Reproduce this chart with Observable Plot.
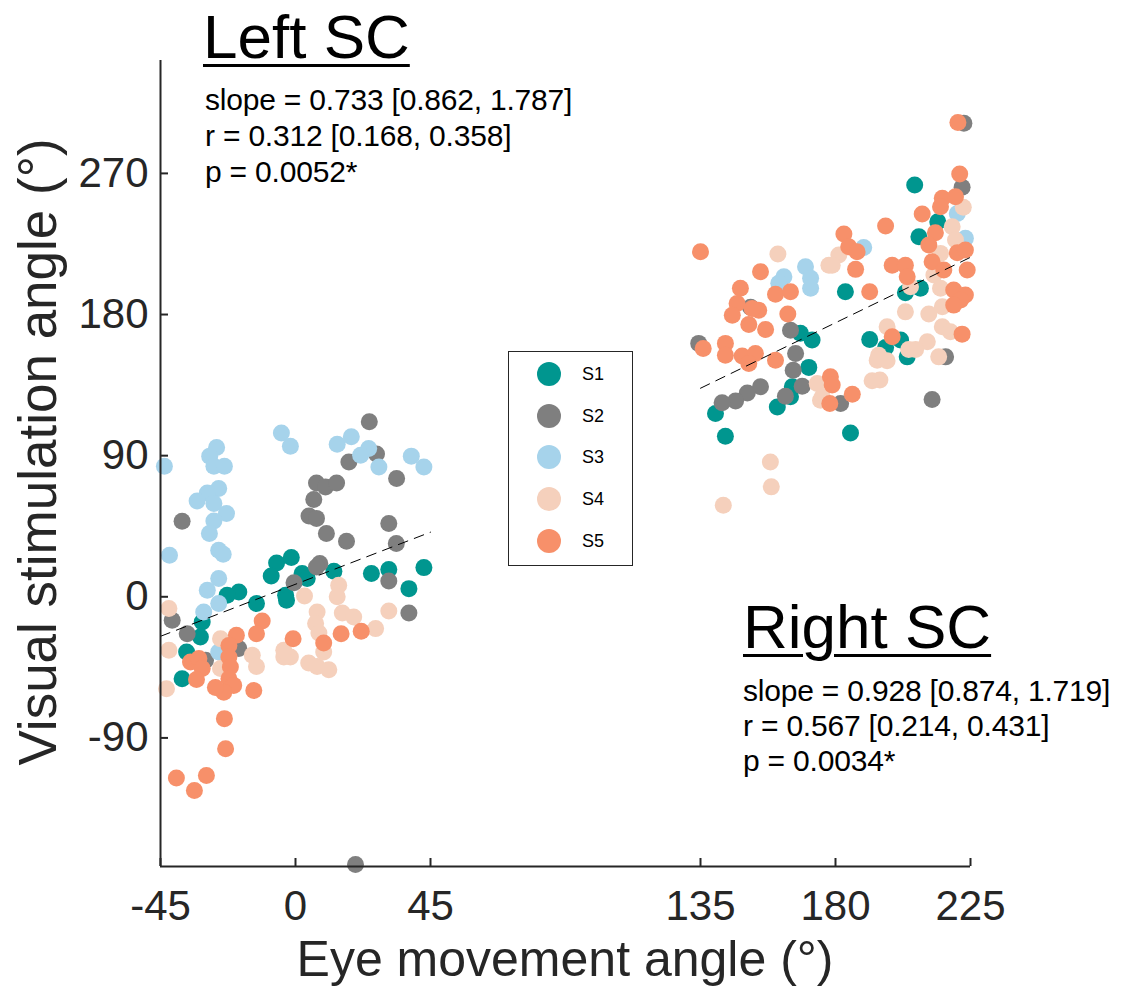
<!DOCTYPE html>
<html><head><meta charset="utf-8">
<script src="https://cdn.jsdelivr.net/npm/d3@7"></script>
<script src="https://cdn.jsdelivr.net/npm/@observablehq/plot@0.6"></script>
<style>
body{margin:0;background:#fff;}
#wrap{position:relative;width:1125px;height:986px;font-family:"Liberation Sans",Arial,sans-serif;color:#000;overflow:hidden;}
#wrap svg{position:absolute;left:0;top:0;}
.ann{position:absolute;white-space:nowrap;line-height:1;}
.title{font-size:62px;text-decoration:underline;text-decoration-thickness:3px;text-underline-offset:6px;}
.stat{font-size:30px;letter-spacing:-0.2px;}
.axlab{color:#262626;}
#legend{position:absolute;left:508px;top:351px;width:123px;height:213px;border:1.5px solid #262626;background:#fff;}
.lrow{position:absolute;left:0;height:30px;}
.lrow span.c{position:absolute;left:28px;top:3px;width:24px;height:24px;border-radius:50%;}
.lrow span.t{position:absolute;left:73px;top:6px;font-size:18px;line-height:1;}
</style></head><body><div id="wrap"></div>
<script>
// ---- data ----
const subjects = ["S1", "S2", "S3", "S4", "S5"];
const subjectColors = ["#00968F", "#7F7F7F", "#A6D3EB", "#F5D0BC", "#F7906A"];
const xTicks = [-45, 0, 45, 135, 180, 225];
const yTicks = [-90, 0, 90, 180, 270];

const s1x = [-6.3, -1.4, -8.1, -3.3, -18.9, -22.8, 2.2, 12.8, 25.3, 31.1, 42.8, 37.8, 3.9, -31.1, -31.7, -36.3, -37.8, -3, -13,
  168.3, 172.2, 171.1, 165.6, 165, 160.6, 140, 143.3, 206.4, 214.1, 207.8, 208.3, 203.3, 183.3, 191.4, 201.7, 196.7, 203.9, 185];
const s1y = [21.6, 25, 13.3, 1, 3.1, 1, 14.8, 16.3, 14.8, 17.4, 18.6, 5.2, 11.6, -16.1, -25.7, -35.2, -52.2, -2.2, -4.3,
  168, 163.7, 146.3, 133.9, 127.5, 121.1, 116.9, 102.4, 262.6, 239.2, 229.6, 196.7, 193.9, 194.5, 164.1, 163.7, 159, 153, 104.5];

const s2x = [-37.8, -0.5, 24.6, 17.8, 27, 33.7, 7, 10, 13.7, 6.1, 4.5, 7, 31.1, 10.3, 17, 33.6, 8.1, 7, 31.1, 37.8, -41.1, -36.1, -18.9, -30, 20,
  222.8, 222.2, 134.4, 151.7, 165, 166.7, 165.9, 168.9, 163.3, 155, 150.6, 146.7, 142.2, 216.7, 212.2, 181.7];
const s2y = [48.2, 9, 111.6, 86, 91, 75.4, 72.6, 70, 72.6, 62, 51.5, 50, 46.7, 40.3, 35.4, 34, 21.2, 19, 10.1, -10.3, -15, -23.5, -33, -40.5, -170.7,
  302, 261.1, 161.6, 184.6, 170, 155.2, 144.5, 134.3, 127.9, 133.9, 130, 124.9, 123.7, 153, 125.8, 123.3];

const s3x = [-4.7, -1.7, -43.7, -26.3, -28.6, -27.2, -23.7, -25.6, -29.4, -32.8, -27.2, -23, -27.2, -28.7, -25.6, -24.1, -42, -25.6, -29.4,
  13.9, 18.6, 24.4, 21.7, 27.8, 38.6, 42.8, -30.6, -25.6, -25.6,
  162.8, 170, 171.7, 171.7, 161.1, 220.6, 223.3, 189.4];
const s3y = [104.5, 96, 83.3, 95.2, 89.7, 83.3, 83.3, 69, 66.2, 61.1, 59.5, 53.1, 48.4, 40.3, 29.7, 27.1, 26.5, 11.6, 4.1,
  97.3, 102, 94.6, 90.3, 82.8, 89.7, 82.8, -9.7, -4.3, -35.2,
  204.1, 210.5, 203.1, 196.7, 199.9, 244.5, 228.6, 222.8];

const s4x = [14.4, 3, 13.9, 7.2, 15.6, 19.4, 31.1, 6.7, 26.7, 7.8, 9.4, 4.4, 7.2, 11.1, -1.7, -42.2, -42.2, -43, -25, -14.4, -13, -3.9, -3.9, -25,
  160.8, 177.8, 173.9, 175, 158.3, 158.6, 142.6, 222.6, 218.9, 220, 181.1, 178.9, 215, 212.8, 205, 215, 215.6, 203.3, 211.1, 215.6, 218.3,
  197.2, 210.6, 204.4, 206.7, 194.4, 197.2, 193.9, 214.4, 192.2, 194.8, 175.6];
const s4y = [7.3, 0.5, 0, -9.7, -10.3, -12.9, -9.1, -17.1, -20.3, -23.1, -35.2, -42.2, -44.4, -46.5, -38.4, -7.5, -34.1, -58.6, -26.7, -37.3, -44.4, -38.4, -34.1, -45.8,
  218.6, 211.5, 136, 125.4, 86, 70.1, 58.4, 248.4, 236, 227.5, 217.9, 211.5, 219, 205.2, 197.7, 196.7, 184.9, 181.7, 180.3, 172.2, 169,
  172.2, 162.6, 157.7, 157.7, 154.1, 150.5, 150.9, 153, 137.7, 138.2, 127.5];

const s5x = [-0.8, 9.4, 15.2, 21.9, -11.1, -13, -19.7, -22.2, -22.2, -21.7, -22.2, -20.6, -23.9, -26.7, -13.9, -35, -32.2, -31.1, -33, -23.7, -23.3, -39.7, -33.7, -29.7,
  135, 155, 148.3, 160, 165, 147.2, 145.6, 154.4, 152.2, 151.1, 156.7, 164.1, 135.9, 143.3, 143.3, 148.9, 153.3, 151.1, 160,
  220.8, 221.4, 215.6, 220, 215, 208.9, 196.7, 213.3, 182.8, 184.4, 187.2, 186.7, 211.1, 220.6, 223.3, 223.9, 212.2, 216.1, 198.9, 203.3, 203.9,
  191.4, 219.4, 223.3, 221.7, 219.4, 222.2, 198.9, 178.3, 178.9, 185.6, 178.1];
const s5y = [-26.7, -29.5, -23.5, -22, -15.4, -23.5, -24.6, -31, -38.4, -44.8, -52.2, -56.5, -60.8, -57.9, -59.7, -41.6, -39.4, -45.8, -52.8, -77.7, -96.9, -115.6, -123.5, -113.9,
  220, 207.3, 196.7, 192.9, 194.5, 187.1, 179.6, 182.8, 183.9, 173.7, 170.5, 180.3, 158.4, 161.6, 154.1, 153.5, 155.2, 148.8, 150.9,
  302.4, 269.6, 254.1, 255.1, 248.8, 244.1, 236.4, 232.2, 231.3, 223.2, 220, 208.8, 224.3, 219.4, 221.1, 208.4, 213.7, 208.4, 211.5, 211.5, 204.1,
  194.5, 195.6, 192.4, 189.2, 186, 167.5, 165.8, 140.3, 135, 129.2, 123.3];

const leftFitX = [-45, 45];
const leftFitY = [-25.2, 41.2];
const rightFitX = [135, 225];
const rightFitY = [133, 216.5];

const leftStats = ["slope = 0.733 [0.862, 1.787]", "r = 0.312 [0.168, 0.358]", "p = 0.0052*"];
const rightStats = ["slope = 0.928 [0.874, 1.719]", "r = 0.567 [0.214, 0.431]", "p = 0.0034*"];

// ---- build table ----
const seriesX = [s1x, s2x, s3x, s4x, s5x];
const seriesY = [s1y, s2y, s3y, s4y, s5y];
const points = [];
subjects.forEach((s, i) => seriesX[i].forEach((x, j) => points.push({subject: s, x, y: seriesY[i][j]})));
const leftFit = leftFitX.map((x, i) => ({x, y: leftFitY[i]}));
const rightFit = rightFitX.map((x, i) => ({x, y: rightFitY[i]}));

const axisColor = "#262626";
const fmt = d => String(d);
const chart = Plot.plot({
  width: 1125, height: 986,
  marginLeft: 160, marginRight: 155, marginTop: 60, marginBottom: 120,
  style: {fontFamily: "'Liberation Sans', Arial, sans-serif", color: axisColor, background: "transparent", overflow: "visible"},
  x: {domain: [-45, 225], label: null},
  y: {domain: [-172, 342], label: null},
  color: {domain: subjects, range: subjectColors},
  marks: [
    Plot.axisX(xTicks, {tickSize: -8, tickFormat: () => "", stroke: axisColor, strokeWidth: 2, label: null}),
    Plot.axisX(xTicks, {tickSize: 0, tickPadding: 24, fontSize: 42, fill: axisColor, label: null, tickFormat: fmt}),
    Plot.axisY(yTicks, {tickSize: -8, tickFormat: () => "", stroke: axisColor, strokeWidth: 2, label: null}),
    Plot.axisY(yTicks, {tickSize: 0, tickPadding: 12, fontSize: 42, fill: axisColor, label: null, tickFormat: fmt}),
    Plot.dot(points, {x: "x", y: "y", fill: "subject", r: 8.5}),
    Plot.line(leftFit, {x: "x", y: "y", stroke: "#000", strokeWidth: 1, strokeDasharray: "10,7"}),
    Plot.line(rightFit, {x: "x", y: "y", stroke: "#000", strokeWidth: 1, strokeDasharray: "10,7"}),
    Plot.ruleX([-45], {stroke: axisColor, strokeWidth: 2}),
    Plot.ruleY([-172], {stroke: axisColor, strokeWidth: 2})
  ]
});
const wrap = document.getElementById("wrap");
wrap.appendChild(chart);

function addDiv(cls, text, left, baseline, fs, extra) {
  const d = document.createElement("div");
  d.className = "ann " + cls;
  d.textContent = text;
  d.style.left = left + "px";
  d.style.fontSize = fs + "px";
  d.style.top = (baseline - 0.8465 * fs) + "px";
  if (extra) Object.assign(d.style, extra);
  wrap.appendChild(d);
  return d;
}
addDiv("title", "Left SC", 203, 58, 62);
addDiv("title", "Right SC", 743, 648, 62);
leftStats.forEach((t, i) => addDiv("stat", t, 205, 110 + i * 36, 30));
rightStats.forEach((t, i) => addDiv("stat", t, 743, 701 + i * 35, 30));
// axis labels
const xl = addDiv("axlab", "Eye movement angle (°)", 565, 976, 50);
xl.style.transform = "translateX(-50%)";
const yl = document.createElement("div");
yl.className = "ann axlab";
yl.style.fontSize = "53px";
yl.textContent = "Visual stimulation angle (°)";
yl.style.left = "37px"; yl.style.top = "452px";
yl.style.transform = "translate(-50%,-50%) rotate(-90deg)";
wrap.appendChild(yl);

// legend
const lg = document.createElement("div");
lg.id = "legend";
subjects.forEach((s, i) => {
  const r = document.createElement("div");
  r.className = "lrow";
  r.style.top = (7 + i * 41.7) + "px";
  r.innerHTML = `<span class="c" style="background:${subjectColors[i]}"></span><span class="t">${s}</span>`;
  lg.appendChild(r);
});
wrap.appendChild(lg);
</script>
</body></html>
